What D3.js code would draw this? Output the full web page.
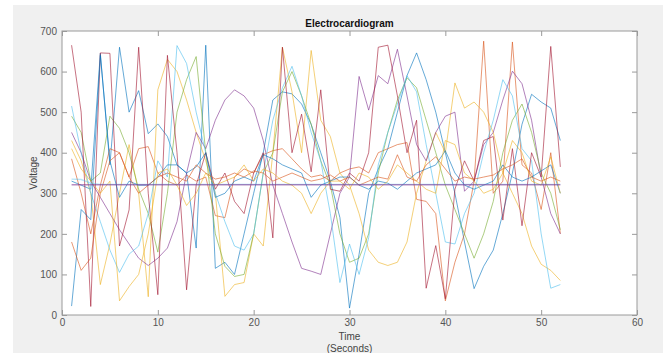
<!DOCTYPE html>
<html><head><meta charset="utf-8">
<script src="https://cdn.jsdelivr.net/npm/d3@7"></script>
<style>body{margin:0;background:#fff}svg{display:block}</style>
</head><body><svg id="c" width="663" height="353"></svg>
<script>
const title = "Electrocardiogram";
const xLabel = ["Time", "(Seconds)"];
const yLabel = "Voltage";
const xTicks = [0, 10, 20, 30, 40, 50, 60];
const yTicks = [0, 100, 200, 300, 400, 500, 600, 700];
const time = d3.range(1, 53);
const colors = ["#0072BD","#D95319","#EDB120","#7E2F8E","#77AC30","#4DBEEE","#A2142F","#0072BD","#D95319","#EDB120","#4DBEEE","#7E2F8E"];

const s1 = [330,320,310,645,370,660,500,553,447,471,440,370,350,165,665,115,130,100,200,300,400,530,550,545,520,470,400,330,240,17,150,300,360,410,500,590,646,580,500,400,300,180,65,120,160,250,350,470,544,525,510,430];
const s2 = [385,300,200,320,410,400,340,410,415,350,330,320,345,330,340,245,240,340,360,350,395,405,410,385,360,340,345,330,350,360,365,350,400,410,420,425,285,280,250,35,130,200,330,675,300,330,673,370,350,260,400,200];
const s3 = [430,380,300,75,175,300,420,300,45,555,630,600,530,450,380,300,46,75,80,200,170,400,660,550,400,652,480,440,350,320,250,160,130,122,130,180,300,380,450,400,572,510,525,500,450,350,300,250,170,125,110,85];
const s4 = [450,400,330,290,250,210,175,140,122,140,165,230,350,450,410,480,530,555,540,510,430,320,250,180,115,108,100,200,300,340,588,505,590,570,655,540,420,380,450,490,500,305,330,420,450,530,601,570,480,340,250,200];
const s5 = [490,450,330,350,490,460,400,310,250,155,300,500,580,637,400,200,120,95,100,200,350,400,550,600,540,470,380,320,200,130,140,200,350,450,530,585,560,480,400,320,260,200,140,200,280,400,480,520,450,350,300,210];
const s6 = [515,400,300,230,160,105,150,170,250,380,340,664,620,500,400,300,230,170,160,200,350,480,560,613,540,450,380,250,80,175,100,190,370,450,520,590,550,420,300,180,175,250,300,400,480,580,540,410,380,200,66,75];
const s7 = [665,500,21,646,645,170,259,660,300,50,640,400,62,320,400,310,350,280,250,350,400,190,660,400,495,353,555,310,305,350,330,400,660,665,540,400,480,66,171,40,310,380,330,430,440,234,410,220,400,340,662,365];
const s8 = [22,260,235,640,380,290,330,320,320,340,370,370,350,365,400,290,300,330,340,330,395,385,370,360,350,290,320,330,340,340,320,310,330,325,310,330,350,360,370,405,350,320,310,320,330,370,340,330,340,355,370,300];
const s9 = [180,110,140,300,380,400,340,300,320,340,350,340,330,370,350,335,340,350,340,355,350,330,340,350,340,330,335,345,330,340,320,330,340,335,395,340,330,370,390,360,330,340,335,340,345,360,370,385,340,330,340,330];
const s10 = [410,360,330,300,330,35,70,100,200,350,360,320,270,300,350,320,330,340,370,330,360,350,330,320,300,250,300,330,330,310,350,340,310,330,370,350,330,310,300,430,420,350,330,300,310,350,430,400,330,320,390,300];
const s11 = [335,334,325,322,322,322,322,322,322,322,322,322,322,322,322,322,322,322,322,322,322,322,322,322,322,322,322,322,322,322,322,322,322,322,322,322,322,322,322,322,322,322,322,322,322,322,322,322,322,322,322,322];
const s12 = [321,321,321,321,321,321,321,321,321,321,321,321,321,321,321,321,321,321,321,321,321,321,321,321,321,321,321,321,321,321,321,321,321,321,321,321,321,321,321,321,321,321,321,321,321,321,321,321,321,321,321,321];
const series = [s1,s2,s3,s4,s5,s6,s7,s8,s9,s10,s11,s12];

const svg = d3.select("#c");
svg.append("rect").attr("x",13).attr("y",5).attr("width",650).attr("height",348).attr("fill","#f0f0f0");
const m = {l:62, r:637, t:31, b:315};
svg.append("rect").attr("x",m.l).attr("y",m.t).attr("width",m.r-m.l).attr("height",m.b-m.t).attr("fill","#fff");
const x = d3.scaleLinear().domain([0,60]).range([m.l,m.r]);
const y = d3.scaleLinear().domain([0,700]).range([m.b,m.t]);

const line = d3.line().x((d,i)=>x(time[i])).y(d=>y(d));
const g = svg.append("g");
series.forEach((s,k)=>{
  g.append("path").attr("d",line(s)).attr("fill","none").attr("stroke",colors[k])
   .attr("stroke-width",k>=10?1.4:1).attr("stroke-opacity",k===10?0.4:(k===11?0.55:0.6));
});

const axCol = "#9a9a9a";
function styleAxis(sel, labels){
  sel.select(".domain").remove();
  sel.selectAll(".tick line").attr("stroke",axCol);
  sel.selectAll(".tick text").attr("fill","#555").style("font-family","Liberation Sans, Arial, sans-serif").style("font-size","10px");
  if(!labels) sel.selectAll(".tick text").remove();
}
styleAxis(svg.append("g").attr("transform",`translate(0,${m.b})`).call(d3.axisBottom(x).tickValues(xTicks).tickSize(-5).tickPadding(4)), true);
styleAxis(svg.append("g").attr("transform",`translate(0,${m.t})`).call(d3.axisTop(x).tickValues(xTicks).tickSize(-5)), false);
styleAxis(svg.append("g").attr("transform",`translate(${m.l},0)`).call(d3.axisLeft(y).tickValues(yTicks).tickSize(-5).tickPadding(5)), true);
styleAxis(svg.append("g").attr("transform",`translate(${m.r},0)`).call(d3.axisRight(y).tickValues(yTicks).tickSize(-5)), false);
svg.append("rect").attr("x",m.l).attr("y",m.t).attr("width",m.r-m.l).attr("height",m.b-m.t)
  .attr("fill","none").attr("stroke",axCol).attr("stroke-width",1);

const ff = "Liberation Sans, Arial, sans-serif";
svg.append("text").attr("x",(m.l+m.r)/2).attr("y",27).attr("text-anchor","middle")
  .style("font-family",ff).style("font-size","10px").style("font-weight","bold").attr("fill","#111").text(title);
svg.append("text").attr("x",(m.l+m.r)/2).attr("y",340).attr("text-anchor","middle")
  .style("font-family",ff).style("font-size","10px").attr("fill","#444").text(xLabel[0]);
svg.append("text").attr("x",(m.l+m.r)/2).attr("y",352).attr("text-anchor","middle")
  .style("font-family",ff).style("font-size","10px").attr("fill","#444").text(xLabel[1]);
svg.append("text").attr("transform",`translate(37,${(m.t+m.b)/2}) rotate(-90)`).attr("text-anchor","middle")
  .style("font-family",ff).style("font-size","10px").attr("fill","#444").text(yLabel);
</script></body></html>
